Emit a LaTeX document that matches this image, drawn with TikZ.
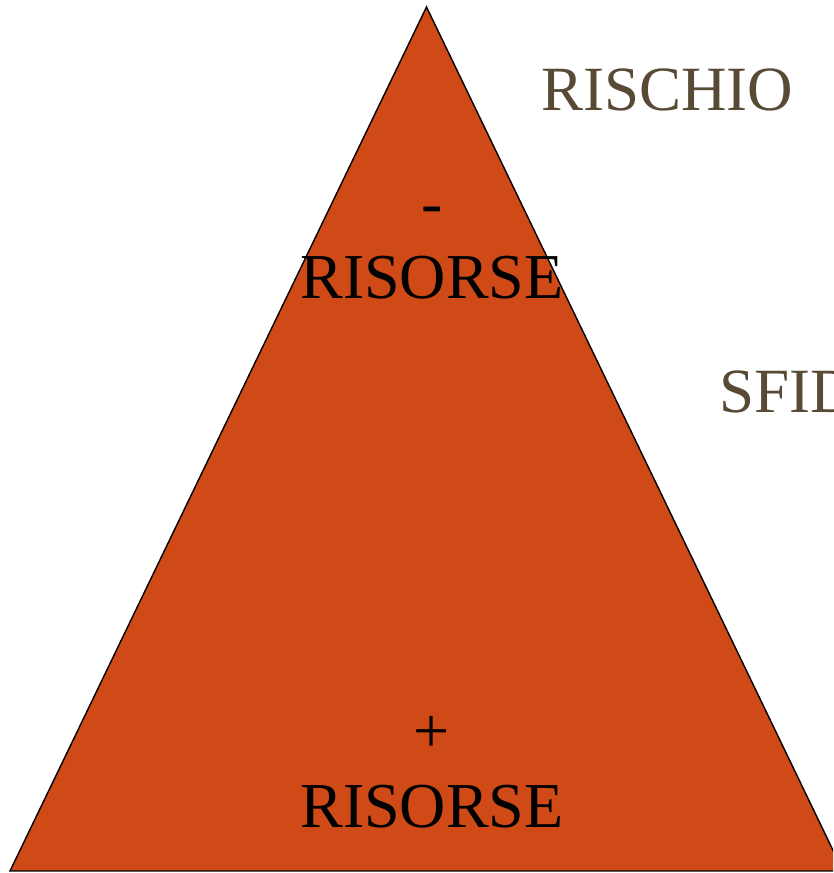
\documentclass[tikz,border=0pt]{standalone}
\usepackage{fontspec}
\setmainfont{Liberation Serif}
\definecolor{tri}{HTML}{D04A18}
\definecolor{brn}{HTML}{594A36}
\begin{document}
\begin{tikzpicture}[x=1pt,y=1pt,
  big/.style={font=\fontsize{64}{72}\selectfont, inner sep=0pt, anchor=base},
  side/.style={font=\fontsize{63}{70}\selectfont, inner sep=0pt, anchor=base west, text=brn}]
\useasboundingbox (0,0) rectangle (833,873);
\begin{scope}
\clip (0,0) rectangle (833,873);
\coordinate (apex) at (426.5,866);
\coordinate (bl) at (10,2);
\coordinate (br) at (843,2);
\draw[fill=tri, line width=1.4pt, line join=miter] (apex) -- (bl) -- (br) -- cycle;
\node[side] (rischio) at (541,762) {RISCHIO};
\node[side] (sfida) at (719,460) {SFIDA};
\end{scope}
\node[big] (minus) at (432,648) {-};
\node[big] (r1) at (432,574) {RISORSE};
\node[big] (plus) at (432,120) {+};
\node[big] (r2) at (432,45) {RISORSE};
\end{tikzpicture}
\end{document}
